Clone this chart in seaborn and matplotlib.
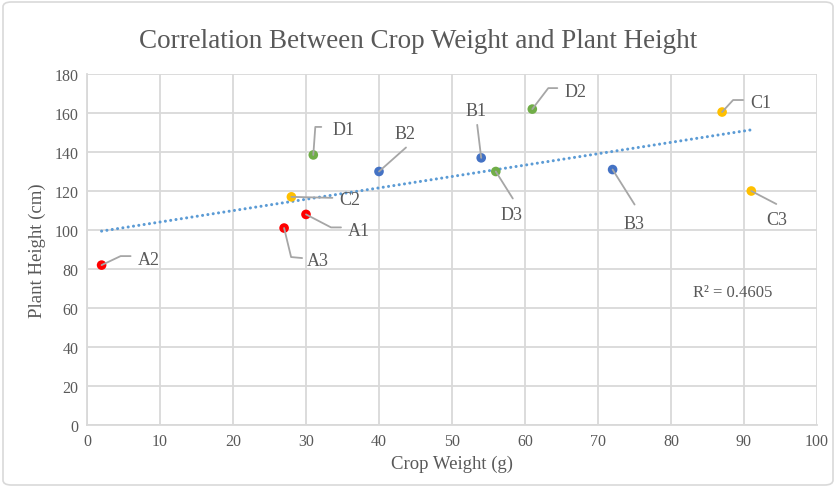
import matplotlib
matplotlib.use("Agg")
import matplotlib.pyplot as plt
from matplotlib.lines import Line2D
from matplotlib.patches import FancyBboxPatch
import seaborn as sns
import pandas as pd

labels = ["A1", "A2", "A3", "B1", "B2", "B3", "C1", "C2", "C3", "D1", "D2", "D3"]
groups = ["A", "A", "A", "B", "B", "B", "C", "C", "C", "D", "D", "D"]
crop_weight = [30, 2, 27, 54, 40, 72, 87, 28, 91, 31, 61, 56]
plant_height = [108, 82, 101, 137, 130, 131, 160.5, 117, 120, 138.5, 162, 130]
r2_text = "R² = 0.4605"

df = pd.DataFrame({"label": labels, "group": groups, "x": crop_weight, "y": plant_height})

palette = {"A": "#FF0000", "B": "#4472C4", "C": "#FFC000", "D": "#70AD47"}
gray = "#595959"

sns.set_theme(style="white")
plt.rcParams["font.family"] = ["Liberation Serif", "DejaVu Serif"]

fig = plt.figure(figsize=(8.36, 4.89), dpi=100)
W, H = 836, 489
ax = fig.add_axes([87 / W, 1 - 426 / H, (817 - 87) / W, (426 - 75) / H])

# outer chart border
fig.patches.append(FancyBboxPatch((3 / W, 3 / H), 830 / W, 483 / H,
                                  boxstyle="round,pad=0,rounding_size=0.01",
                                  transform=fig.transFigure, fill=False,
                                  edgecolor="#D9D9D9", lw=1.2, zorder=0))

sns.regplot(data=df, x="x", y="y", scatter=False, ci=None, ax=ax,
            line_kws=dict(ls=(0, (0.01, 1.75)), color="#5B9BD5", lw=2.2,
                          dash_capstyle="round", zorder=2))

ax.set_xlim(0, 100)
ax.set_ylim(0, 180)
ax.set_xticks(range(0, 101, 10))
ax.set_yticks(range(0, 181, 20))
ax.grid(True, color="#D9D9D9", lw=1.3)
ax.set_axisbelow(True)
for s in ax.spines.values():
    s.set_visible(False)
for side in ("left", "bottom"):
    ax.spines[side].set_visible(True)
    ax.spines[side].set_color("#D9D9D9")
    ax.spines[side].set_linewidth(1.3)
ax.tick_params(axis="both", length=0, labelsize=11.5, labelcolor=gray, pad=6)

fig.text(0.5, 1 - 42 / H, "Correlation Between Crop Weight and Plant Height",
         ha="center", va="center", fontsize=19.5, color=gray)

# leader lines (pixel offsets, y down) and label anchors
leaders = {
    "A1": ([(0, 0), (25, 13), (35, 13)], (42, 16), "left"),
    "A2": ([(0, 0), (19, -9), (29, -9)], (36, -6), "left"),
    "A3": ([(0, 0), (7, 29), (18, 30)], (23, 32), "left"),
    "B1": ([(0, 0), (-4, -33)], (-5, -47), "center"),
    "B2": ([(0, 0), (27, -24)], (26, -38), "center"),
    "B3": ([(0, 0), (22, 35)], (21, 54), "center"),
    "C1": ([(0, 0), (11, -12), (21, -12)], (28, -10), "left"),
    "C2": ([(0, 0), (41, 1)], (48, 3), "left"),
    "C3": ([(0, 0), (25, 13)], (25, 29), "center"),
    "D1": ([(0, 0), (2, -28), (8, -28)], (19, -25), "left"),
    "D2": ([(0, 0), (16, -21), (25, -21)], (32, -18), "left"),
    "D3": ([(0, 0), (17, 27)], (16, 43), "center"),
}

sns.scatterplot(data=df, x="x", y="y", hue="group", palette=palette, s=48,
                edgecolor="none", legend=False, ax=ax, zorder=4)
ax.set_xlabel("Crop Weight (g)", fontsize=13.5, color=gray, labelpad=4)
ax.set_ylabel("Plant Height (cm)", fontsize=13.5, color=gray, labelpad=6)

for lab, x, y in zip(labels, crop_weight, plant_height):
    verts, (tx, ty), ha = leaders[lab]
    px, py = ax.transData.transform((x, y))
    xs = [px + dx for dx, dy in verts]
    ys = [py - dy for dx, dy in verts]
    fig.lines.append(Line2D(xs, ys, transform=None, color="#A6A6A6", lw=1.3, zorder=3))
    fig.text(px + tx, py - ty, lab, transform=None, ha=ha, va="center",
             fontsize=13, color=gray)

fig.text(733 / W, 1 - 293 / H, r2_text, ha="center", va="center", fontsize=12, color=gray)

fig.savefig("out.png", dpi=100)
